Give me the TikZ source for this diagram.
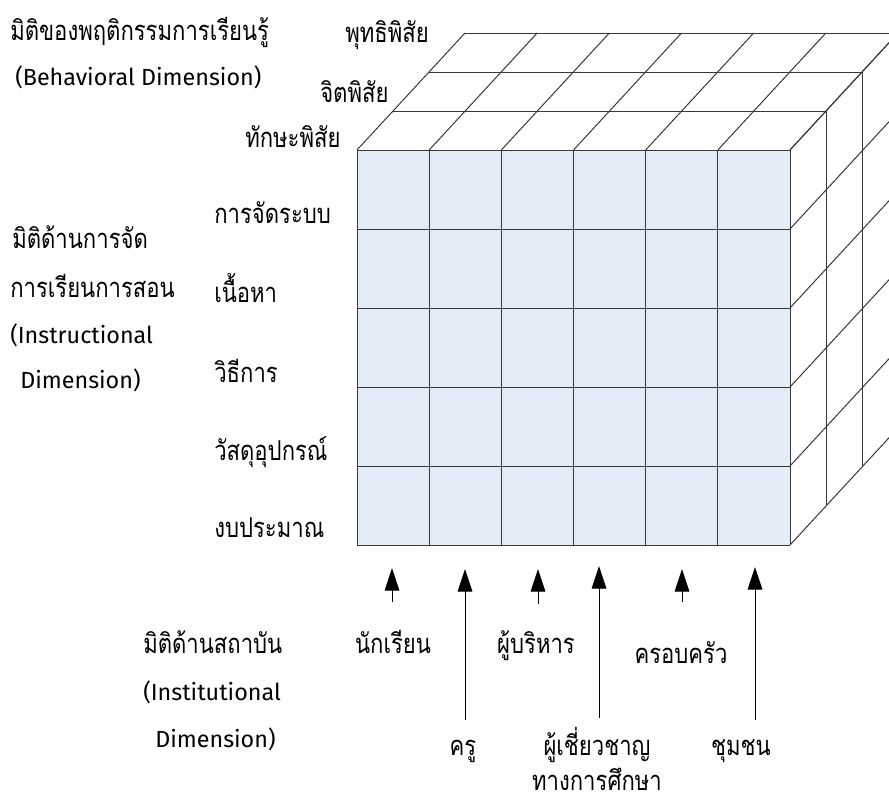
\documentclass[tikz,border=0pt]{standalone}
\usepackage{fontspec}
\setmainfont{Fira Sans}
\newfontfamily\thaifont[Script=Thai]{Loma}
\usetikzlibrary{arrows.meta}
\definecolor{facefill}{HTML}{E4ECF7}
\definecolor{gridline}{HTML}{383838}
\newcommand{\thx}[1]{\scalebox{0.92}[1.14]{#1}}
\begin{document}
\begin{tikzpicture}[x=0.75pt,y=-0.75pt,
  grid/.style={draw=gridline, line width=0.75pt},
  th/.style={font=\thaifont\fontsize{18}{21}\selectfont, inner sep=0pt},
  la/.style={font=\fontsize{17.5}{20}\selectfont, inner sep=0pt},
  uparrow/.style={-{Triangle[length=17pt,width=11pt]}, line width=0.75pt, draw=black}]
\useasboundingbox (0,0) rectangle (889,801);
\begin{scope}
\clip (0,0) rectangle (889,801);
\fill[facefill] (357,150) rectangle (790,545);
\foreach \i in {0,...,6} {
  \draw[grid] ({357+\i*72.1667},150) -- ({357+\i*72.1667},545);
  \draw[grid] ({357+\i*72.1667},150) -- ++(108,-117);
}
\foreach \j in {0,...,5} {
  \draw[grid] (357,{150+\j*79}) -- (790,{150+\j*79});
  \draw[grid] (790,{150+\j*79}) -- ++(108,-117);
}
\foreach \k in {1,2,3} {
  \draw[grid] ({357+36*\k},{150-39*\k}) -- ({790+36*\k},{150-39*\k});
  \draw[grid] ({790+36*\k},{150-39*\k}) -- ({790+36*\k},{545-39*\k});
}
\end{scope}
% behavioral dimension
\node[th, anchor=base west] (bhT) at (10,40) {\thx{มิติของพฤติกรรมการเรียนรู้}};
\node[la, anchor=base west] (bhE) at (15,85) {(Behavioral Dimension)};
\node[th, anchor=base west] (b3) at (345,42) {\thx{พุทธิพิสัย}};
\node[th, anchor=base west] (b2) at (320,102) {\thx{จิตพิสัย}};
\node[th, anchor=base west] (b1) at (245,147) {\thx{ทักษะพิสัย}};
% instructional dimension
\node[th, anchor=base west] (r1) at (214,223) {\thx{การจัดระบบ}};
\node[th, anchor=base west] (r2) at (214,302) {\thx{เนื้อหา}};
\node[th, anchor=base west] (r3) at (214,382) {\thx{วิธีการ}};
\node[th, anchor=base west] (r4) at (214,460) {\thx{วัสดุอุปกรณ์}};
\node[th, anchor=base west] (r5) at (214,537) {\thx{งบประมาณ}};
\node[th, anchor=base west] (inT1) at (12,248) {\thx{มิติด้านการจัด}};
\node[th, anchor=base west] (inT2) at (10,297) {\thx{การเรียนการสอน}};
\node[la, anchor=base west] (inE1) at (10,343) {(Instructional};
\node[la, anchor=base west] (inE2) at (20,388) {Dimension)};
% institutional dimension
\node[th, anchor=base west] (isT) at (143,653) {\thx{มิติด้านสถาบัน}};
\node[la, anchor=base west] (isE1) at (143,700) {(Institutional};
\node[la, anchor=base west] (isE2) at (155,747) {Dimension)};
\node[th, anchor=base] (c1) at (393,653) {\thx{นักเรียน}};
\node[th, anchor=base] (c3) at (536,653) {\thx{ผู้บริหาร}};
\node[th, anchor=base] (c5) at (681,663) {\thx{ครอบครัว}};
\node[th, anchor=base] (c2) at (463,755) {\thx{ครู}};
\node[th, anchor=base] (c4) at (597,755) {\thx{ผู้เชี่ยวชาญ}};
\node[th, anchor=base] (c4b) at (597,790) {\thx{ทางการศึกษา}};
\node[th, anchor=base] (c6) at (741,755) {\thx{ชุมชน}};
% arrows
\coordinate (a1s) at (392,602); \coordinate (a1e) at (392,568);
\coordinate (a2s) at (465,720); \coordinate (a2e) at (465,569);
\coordinate (a3s) at (538,604); \coordinate (a3e) at (538,569);
\coordinate (a4s) at (599,718); \coordinate (a4e) at (599,566);
\coordinate (a5s) at (682,602); \coordinate (a5e) at (682,569);
\coordinate (a6s) at (755,720); \coordinate (a6e) at (755,567);
\foreach \n in {1,...,6} { \draw[uparrow] (a\n s) -- (a\n e); }
\end{tikzpicture}
\end{document}
